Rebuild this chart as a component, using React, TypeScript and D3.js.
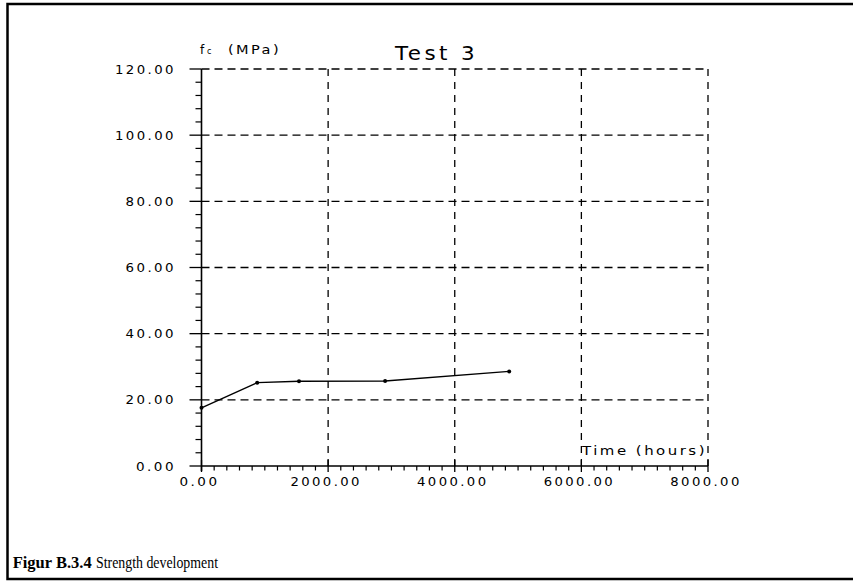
import React from "react";
import * as d3 from "d3";

const timeHours = [0, 880, 1540, 2900, 4860];
const strengthMPa = [17.6, 25.2, 25.6, 25.7, 28.6];
const xTickValues = [0, 2000, 4000, 6000, 8000];
const yTickValues = [0, 20, 40, 60, 80, 100, 120];
const title = "Test  3";
const xLabel = "Time  (hours)";
const captionBold = "Figur B.3.4";
const captionText = "Strength development";

const W = 853;
const H = 584;
const left = 201.5;
const right = 708;
const top = 69;
const bottom = 466;

const font = "'DejaVu Sans', sans-serif";

function PText(props: {
  x: number;
  y: number;
  size: number;
  len: number;
  anchor?: string;
  ls?: number;
  children: React.ReactNode;
}) {
  return (
    <text
      x={props.x}
      y={props.y}
      fontFamily={font}
      fontSize={props.size}
      textAnchor={props.anchor || "start"}
      letterSpacing={props.ls ?? 2}
      textLength={props.len}
      lengthAdjust="spacingAndGlyphs"
    >
      {props.children}
    </text>
  );
}

export default function App() {
  const x = d3.scaleLinear().domain([0, 8000]).range([left, right]);
  const y = d3.scaleLinear().domain([0, 120]).range([bottom, top]);
  const xMinor = d3.range(0, 8001, 200).filter((v) => v % 2000 !== 0);
  const yMinor = d3.range(0, 121, 4).filter((v) => v % 20 !== 0);
  const line = d3
    .line<number>()
    .x((_, i) => x(timeHours[i]))
    .y((d) => y(d));
  const fmt = d3.format(".2f");
  const pitch = 10.5;

  return (
    <svg
      width={W}
      height={H}
      style={{ position: "absolute", left: 0, top: 0, background: "#fff" }}
    >
      <rect x={0} y={0} width={W} height={H} fill="#fff" />
      <path d={`M${W + 2},4 H7.5 V579 H${W + 2}`} fill="none" stroke="#000" strokeWidth={2.5} />

      {yTickValues
        .filter((v) => v > 0)
        .map((v) => (
          <line
            key={"hg" + v}
            x1={left}
            x2={right}
            y1={y(v)}
            y2={y(v)}
            stroke="#000"
            strokeWidth={1.3}
            strokeDasharray="8,5"
          />
        ))}
      {xTickValues
        .filter((v) => v > 0)
        .map((v) => (
          <line
            key={"vg" + v}
            x1={x(v)}
            x2={x(v)}
            y1={top}
            y2={bottom + 5}
            stroke="#000"
            strokeWidth={1.3}
            strokeDasharray="7,6"
          />
        ))}

      <line x1={left} x2={left} y1={top} y2={bottom + 5} stroke="#000" strokeWidth={1.6} />
      <line x1={left} x2={right} y1={bottom} y2={bottom} stroke="#000" strokeWidth={1.6} />

      {yTickValues.map((v) => (
        <line key={"yt" + v} x1={left - 12} x2={left} y1={y(v)} y2={y(v)} stroke="#000" strokeWidth={1.3} />
      ))}
      {yMinor.map((v) => (
        <line key={"ym" + v} x1={left - 6} x2={left} y1={y(v)} y2={y(v)} stroke="#000" strokeWidth={1.2} />
      ))}
      {xMinor.map((v) => (
        <line key={"xm" + v} x1={x(v)} x2={x(v)} y1={bottom} y2={bottom + 4.5} stroke="#000" strokeWidth={1.2} />
      ))}
      {xTickValues.map((v) => (
        <line key={"xt" + v} x1={x(v)} x2={x(v)} y1={bottom - 6} y2={bottom + 6} stroke="#000" strokeWidth={1.3} />
      ))}

      {yTickValues.map((v) => {
        const s = fmt(v);
        return (
          <PText key={"yl" + v} x={176} y={y(v) + 4.5} size={12} len={s.length * pitch - 2} anchor="end" ls={2.2}>
            {s}
          </PText>
        );
      })}
      {xTickValues.map((v) => {
        const s = fmt(v);
        return (
          <PText key={"xl" + v} x={x(v) - 2} y={485.5} size={12} len={s.length * pitch - 2} anchor="middle" ls={2.2}>
            {s}
          </PText>
        );
      })}

      <path d={line(strengthMPa) || ""} fill="none" stroke="#000" strokeWidth={1.4} />
      {strengthMPa.map((v, i) => (
        <circle key={"p" + i} cx={x(timeHours[i])} cy={y(v)} r={2} fill="#000" />
      ))}

      <text x={200} y={53.5} fontFamily={font} fontSize={12}>
        f
      </text>
      <text x={207} y={53.5} fontFamily={font} fontSize={8}>
        c
      </text>
      <PText x={228} y={53.5} size={12} len={53}>
        (MPa)
      </PText>
      <PText x={395} y={60} size={19} len={83} ls={3}>
        {title}
      </PText>
      <PText x={582} y={455} size={12} len={125}>
        {xLabel}
      </PText>

      <text
        x={12.7}
        y={567.5}
        fontFamily="'Liberation Serif', 'Times New Roman', serif"
        fontWeight="bold"
        fontSize={16.5}
        textLength={79}
        lengthAdjust="spacingAndGlyphs"
      >
        {captionBold}
      </text>
      <text
        x={96}
        y={567.5}
        fontFamily="'Liberation Serif', 'Times New Roman', serif"
        fontSize={16.5}
        textLength={122}
        lengthAdjust="spacingAndGlyphs"
      >
        {captionText}
      </text>
    </svg>
  );
}
